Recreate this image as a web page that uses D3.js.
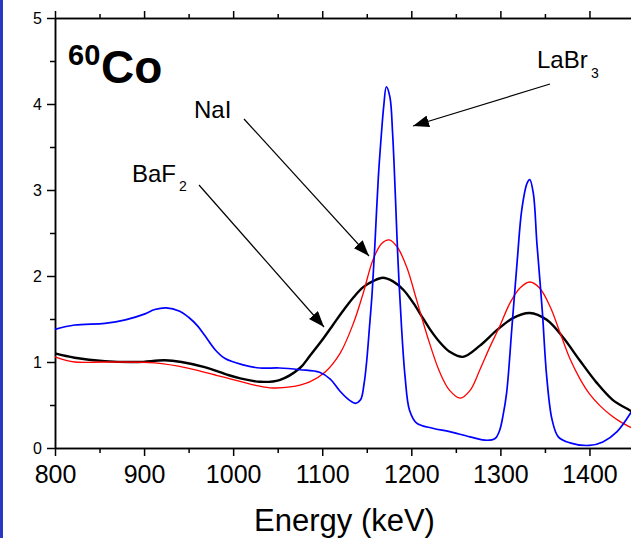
<!DOCTYPE html>
<html>
<head>
<meta charset="utf-8">
<script src="https://cdn.jsdelivr.net/npm/d3@7"></script>
<style>
  html, body { margin: 0; padding: 0; background: #fff; }
  svg { display: block; font-family: "Liberation Sans", Arial, Helvetica, sans-serif; }
</style>
</head>
<body>
<svg id="chart" width="631" height="538"></svg>
<script>
// ---- data ----
const xMajorTicks = [800, 900, 1000, 1100, 1200, 1300, 1400];
const xMinorTicks = [850, 950, 1050, 1150, 1250, 1350, 1450];
const yMajorTicks = [0, 1, 2, 3, 4, 5];
const yMinorTicks = [0.5, 1.5, 2.5, 3.5, 4.5];

const energyLaBr3 = [800, 822, 856, 879, 901, 912, 925, 940, 950, 960, 968, 980, 991, 1010, 1030, 1052, 1075, 1097, 1109, 1120, 1130, 1137, 1143, 1147, 1150, 1153, 1156, 1159, 1163, 1167, 1169, 1172, 1176, 1179, 1182, 1185, 1189, 1193, 1198, 1206, 1224, 1243, 1266, 1285, 1294, 1299, 1303, 1307, 1313, 1319, 1324, 1330, 1333, 1337, 1341, 1347, 1352, 1358, 1365, 1378, 1400, 1415, 1431, 1450];
const countsLaBr3 = [1.38, 1.43, 1.45, 1.49, 1.56, 1.61, 1.63, 1.59, 1.52, 1.42, 1.31, 1.14, 1.04, 0.97, 0.93, 0.93, 0.91, 0.88, 0.80, 0.66, 0.56, 0.52, 0.56, 0.75, 1.02, 1.40, 1.80, 2.34, 3.15, 3.73, 3.97, 4.20, 4.08, 3.66, 2.96, 2.19, 1.41, 0.83, 0.44, 0.29, 0.23, 0.19, 0.13, 0.09, 0.11, 0.20, 0.38, 0.64, 1.41, 2.19, 2.77, 3.08, 3.12, 2.96, 2.38, 1.60, 0.83, 0.33, 0.13, 0.06, 0.03, 0.07, 0.19, 0.47];

const energyNaI = [800, 822, 856, 912, 949, 987, 1024, 1041, 1064, 1086, 1103, 1120, 1135, 1146, 1157, 1167, 1175, 1184, 1195, 1206, 1218, 1232, 1243, 1255, 1266, 1277, 1288, 1299, 1311, 1322, 1333, 1344, 1356, 1367, 1378, 1389, 1400, 1412, 1423, 1434, 1450];
const countsNaI = [1.06, 1.00, 1.00, 0.99, 0.93, 0.83, 0.73, 0.70, 0.71, 0.77, 0.88, 1.10, 1.45, 1.80, 2.19, 2.38, 2.42, 2.34, 2.10, 1.72, 1.30, 0.88, 0.67, 0.58, 0.67, 0.91, 1.17, 1.41, 1.69, 1.86, 1.93, 1.86, 1.64, 1.34, 1.04, 0.81, 0.63, 0.49, 0.39, 0.31, 0.22];

const energyBaF2 = [800, 822, 856, 893, 923, 942, 968, 994, 1008, 1030, 1052, 1075, 1086, 1101, 1112, 1123, 1135, 1146, 1157, 1168, 1179, 1191, 1202, 1213, 1221, 1232, 1243, 1258, 1277, 1296, 1314, 1333, 1352, 1370, 1389, 1408, 1426, 1445, 1450];
const countsBaF2 = [1.10, 1.05, 1.01, 1.00, 1.02, 1.00, 0.94, 0.85, 0.81, 0.77, 0.79, 0.93, 1.07, 1.27, 1.43, 1.59, 1.75, 1.87, 1.94, 1.98, 1.94, 1.84, 1.69, 1.51, 1.38, 1.23, 1.12, 1.06, 1.19, 1.37, 1.51, 1.57, 1.49, 1.29, 1.02, 0.76, 0.56, 0.44, 0.41];

const xTitle = "Energy (keV)";

// ---- layout ----
const svg = d3.select("#chart");
const plotL = 55, plotR = 634, plotT = 18, plotB = 448;

svg.append("rect").attr("x", 0).attr("y", 0).attr("width", 3).attr("height", 538).attr("fill", "#2a36c4");

const x = d3.scaleLinear().domain([800, 1450]).range([plotL, plotR]);
const y = d3.scaleLinear().domain([0, 5]).range([plotB, plotT]);

const axisStyle = g => {
  g.select(".domain").attr("stroke", "#000").attr("stroke-width", 1.5);
  g.selectAll(".tick line").attr("stroke", "#000").attr("stroke-width", 1.5);
};

// bottom axis
const gx = svg.append("g").attr("transform", `translate(0,${plotB})`)
  .call(d3.axisBottom(x).tickValues(xMajorTicks).tickSize(8).tickSizeOuter(0).tickPadding(9).tickFormat(d3.format("d")));
axisStyle(gx);
gx.selectAll("text").attr("font-size", 25).attr("fill", "#000").attr("font-family", "Liberation Sans, Arial, sans-serif");
const gxm = svg.append("g").attr("transform", `translate(0,${plotB})`)
  .call(d3.axisBottom(x).tickValues(xMinorTicks).tickSize(5).tickSizeOuter(0).tickFormat(""));
axisStyle(gxm);

// top axis
const gt = svg.append("g").attr("transform", `translate(0,${plotT})`)
  .call(d3.axisTop(x).tickValues(xMajorTicks).tickSize(7).tickSizeOuter(0).tickFormat(""));
axisStyle(gt);
const gtm = svg.append("g").attr("transform", `translate(0,${plotT})`)
  .call(d3.axisTop(x).tickValues(xMinorTicks).tickSize(4).tickSizeOuter(0).tickFormat(""));
axisStyle(gtm);

// left axis
const gy = svg.append("g").attr("transform", `translate(${plotL},0)`)
  .call(d3.axisLeft(y).tickValues(yMajorTicks).tickSize(8).tickSizeOuter(0).tickPadding(5).tickFormat(d3.format("d")));
axisStyle(gy);
gy.selectAll("text").attr("font-size", 16).attr("fill", "#000").attr("font-family", "Liberation Sans, Arial, sans-serif");
const gym = svg.append("g").attr("transform", `translate(${plotL},0)`)
  .call(d3.axisLeft(y).tickValues(yMinorTicks).tickSize(5).tickSizeOuter(0).tickFormat(""));
axisStyle(gym);

// ---- series ----
const line = d3.line().x(d => x(d[0])).y(d => y(d[1])).curve(d3.curveCatmullRom.alpha(0.5));
const series = [
  { e: energyBaF2, v: countsBaF2, color: "#000000", w: 2.4 },
  { e: energyNaI, v: countsNaI, color: "#ff0000", w: 1.3 },
  { e: energyLaBr3, v: countsLaBr3, color: "#0000ff", w: 1.7 }
];
series.forEach(s => {
  svg.append("path")
    .datum(d3.zip(s.e, s.v))
    .attr("d", line)
    .attr("fill", "none")
    .attr("stroke", s.color)
    .attr("stroke-width", s.w)
    .attr("stroke-linejoin", "round");
});

// ---- arrows and labels ----
svg.append("defs").append("marker")
  .attr("id", "arrow").attr("markerUnits", "userSpaceOnUse")
  .attr("markerWidth", 18).attr("markerHeight", 12)
  .attr("refX", 16).attr("refY", 6).attr("orient", "auto")
  .append("path").attr("d", "M0,0 L16,6 L0,12 Z").attr("fill", "#000");

const arrows = [
  [550, 84, 413, 126],
  [244, 119, 369, 256],
  [199, 185, 324, 327]
];
arrows.forEach(a => {
  svg.append("line").attr("x1", a[0]).attr("y1", a[1]).attr("x2", a[2]).attr("y2", a[3])
    .attr("stroke", "#000").attr("stroke-width", 1.2).attr("marker-end", "url(#arrow)");
});

const lab = (txt, sub, xx, yy, subX, subY) => {
  svg.append("text").attr("x", xx).attr("y", yy).attr("font-size", 24).attr("fill", "#000").text(txt);
  if (sub) svg.append("text").attr("x", subX).attr("y", subY).attr("font-size", 14).attr("fill", "#000").text(sub);
};
lab("LaBr", "3", 537, 68, 591, 78);
lab("NaI", null, 194, 118);
lab("BaF", "2", 132, 182, 179, 191);

// title
svg.append("text").attr("x", 68).attr("y", 65).attr("font-size", 29).attr("font-weight", "bold").attr("fill", "#000").text("60");
svg.append("text").attr("x", 101).attr("y", 83).attr("font-size", 46).attr("font-weight", "bold").attr("fill", "#000").text("Co");

// axis title
svg.append("text").attr("x", (plotL + plotR) / 2).attr("y", 531).attr("text-anchor", "middle")
  .attr("font-size", 31).attr("fill", "#000").text(xTitle);
</script>
</body>
</html>
